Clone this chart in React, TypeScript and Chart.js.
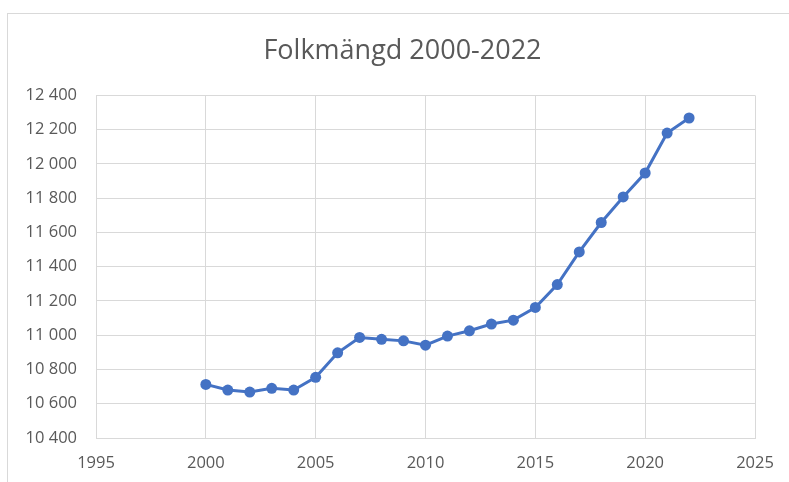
import React, { useEffect, useRef } from "react";
import { Chart, registerables } from "chart.js";

Chart.register(...registerables);

const titleText = "Folkmängd 2000-2022";
const years = [2000, 2001, 2002, 2003, 2004, 2005, 2006, 2007, 2008, 2009, 2010, 2011, 2012, 2013, 2014, 2015, 2016, 2017, 2018, 2019, 2020, 2021, 2022];
const population = [10713, 10680, 10668, 10690, 10680, 10754, 10897, 10987, 10976, 10967, 10942, 10995, 11026, 11065, 11088, 11162, 11296, 11486, 11658, 11807, 11947, 12180, 12268];
const xTicks = [1995, 2000, 2005, 2010, 2015, 2020, 2025];
const yTicks = [10400, 10600, 10800, 11000, 11200, 11400, 11600, 11800, 12000, 12200, 12400];

const fmt = (v: number) => String(v).replace(/\B(?=(\d{3})+(?!\d))/g, " ");

export default function App() {
  const ref = useRef<HTMLCanvasElement | null>(null);
  useEffect(() => {
    if (!ref.current) return;
    const font = "'Open Sans', sans-serif";
    const chart = new Chart(ref.current, {
      type: "line",
      data: {
        datasets: [
          {
            data: years.map((y, i) => ({ x: y, y: population[i] })),
            borderColor: "#4472C4",
            backgroundColor: "#4472C4",
            borderWidth: 3,
            pointRadius: 5.5,
            pointBorderWidth: 0,
            pointHoverRadius: 5.5,
            tension: 0,
            yAxisID: "y",
          },
        ],
      },
      options: {
        animation: false,
        responsive: false,
        layout: { padding: { left: 8, right: 0, top: 0, bottom: 0 } },
        plugins: {
          legend: { display: false },
          tooltip: { enabled: false },
          title: {
            display: true,
            text: titleText,
            color: "#595959",
            font: { family: font, size: 27, weight: "normal", lineHeight: 1.2 },
            padding: { top: 21, bottom: 28 },
          },
        },
        scales: {
          x: {
            type: "linear",
            min: 1995,
            max: 2025,
            afterBuildTicks: (s: any) => {
              s.ticks = xTicks.map((v) => ({ value: v }));
            },
            afterFit: (s: any) => {
              s.height = 44;
            },
            grid: { color: "#d9d9d9", drawTicks: false, lineWidth: 1 },
            border: { color: "#d9d9d9" },
            ticks: {
              color: "#595959",
              padding: 15,
              maxRotation: 0,
              autoSkip: false,
              font: { family: font, size: 16.5 },
              callback: (v: any) => String(v),
            },
          },
          y: {
            type: "linear",
            position: "left",
            min: 10400,
            max: 12400,
            afterBuildTicks: (s: any) => {
              s.ticks = yTicks.map((v) => ({ value: v }));
            },
            afterFit: (s: any) => {
              s.width = 80;
            },
            grid: { color: "#d9d9d9", drawTicks: false, lineWidth: 1 },
            border: { color: "#d9d9d9" },
            ticks: {
              color: "#595959",
              padding: 19,
              autoSkip: false,
              font: { family: font, size: 16.5 },
              callback: (v: any) => fmt(Number(v)),
            },
          },
          yPad: {
            type: "linear",
            position: "right",
            min: 10400,
            max: 12400,
            afterFit: (s: any) => {
              s.width = 34;
            },
            grid: { display: false, drawTicks: false },
            border: { display: false },
            ticks: { display: false },
          },
        },
      },
    } as any);
    return () => chart.destroy();
  }, []);

  return (
    <div style={{ position: "fixed", left: 0, top: 0, width: 789, height: 482, overflow: "hidden", background: "#fff" }}>
      <div
        style={{
          position: "absolute",
          left: 7,
          top: 13,
          width: 782,
          height: 469,
          borderLeft: "1px solid #d9d9d9",
          borderTop: "1px solid #d9d9d9",
          boxSizing: "border-box",
        }}
      />
      <canvas ref={ref} width={781} height={468} style={{ position: "absolute", left: 8, top: 14, width: 781, height: 468 }} />
    </div>
  );
}
